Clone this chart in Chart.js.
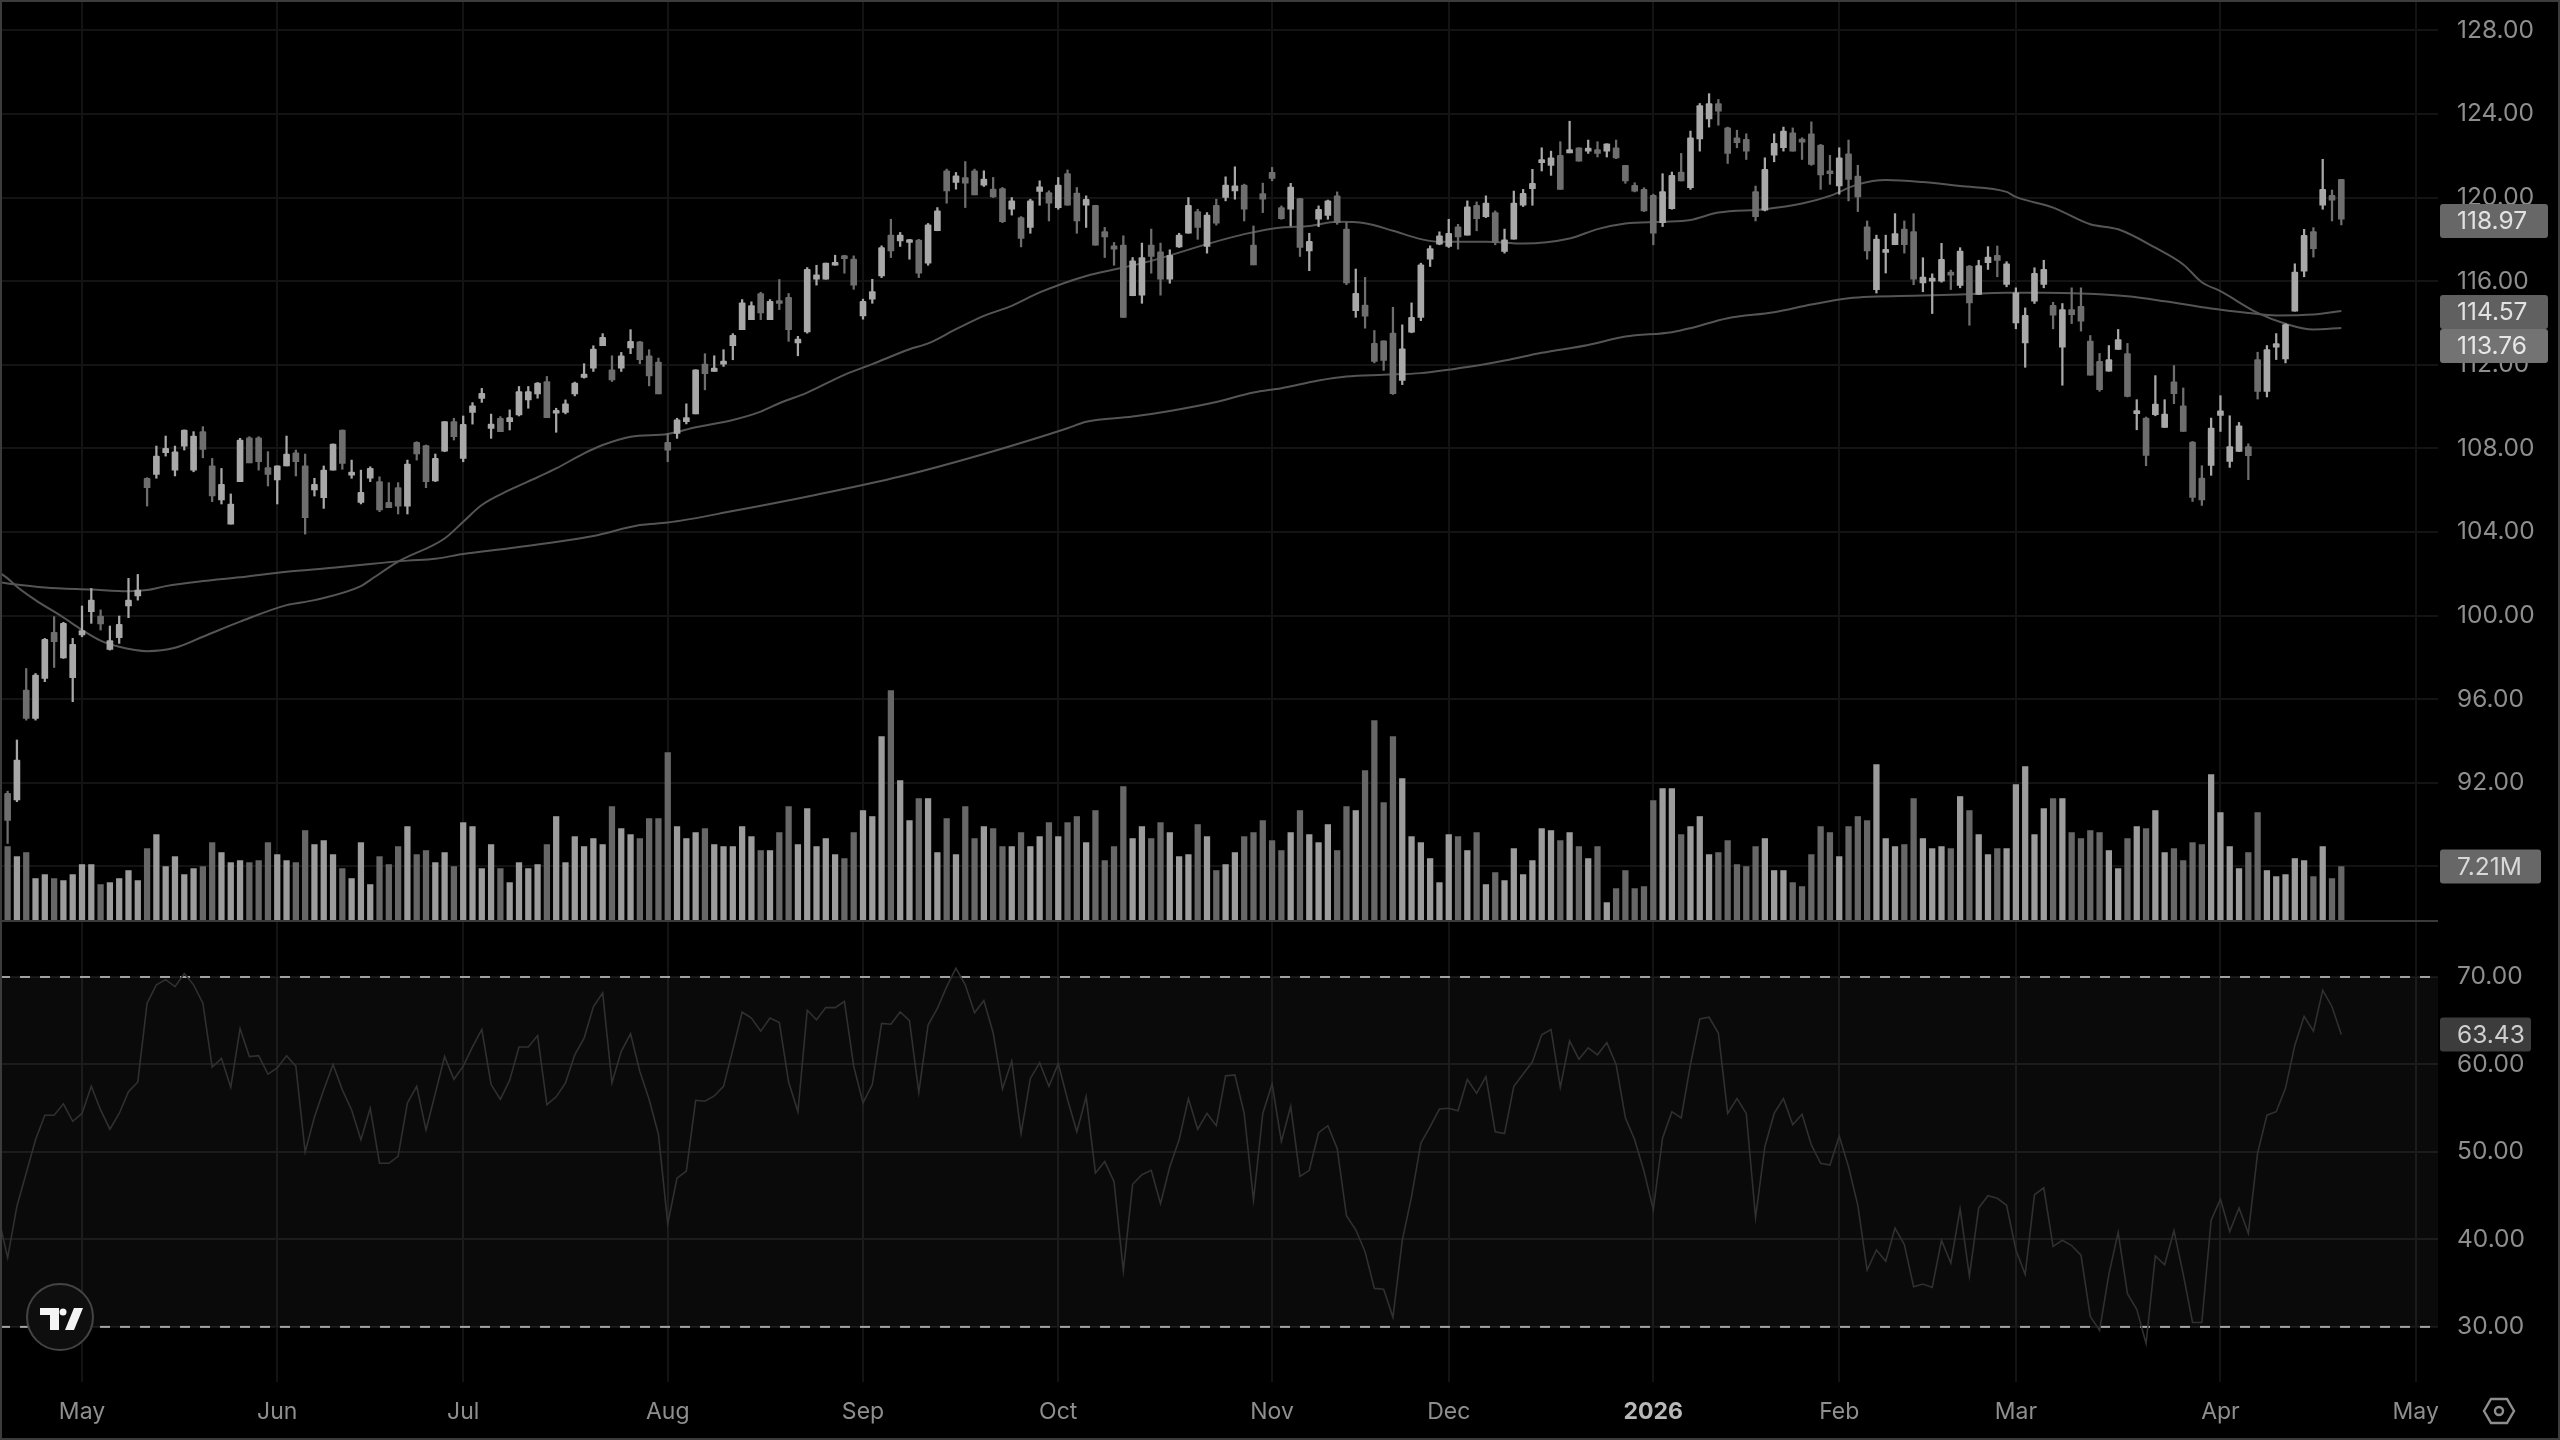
<!DOCTYPE html>
<html>
<head>
<meta charset="utf-8">
<title>Chart</title>
<script src="https://cdn.jsdelivr.net/npm/chart.js@4/dist/chart.umd.min.js"></script>
<style>
  html, body { margin: 0; padding: 0; background: #000; }
  canvas { display: block; }
</style>
</head>
<body>
<canvas id="chart" width="2560" height="1440"></canvas>
<script>
const opens = [
  91.5,91.18,96.44,95.08,97.0,99.2,97.98,97.03,99.07,100.19,
  99.98,98.38,98.94,100.46,100.94,106.57,106.76,107.79,106.96,108.11,
  106.96,108.8,107.16,105.53,104.38,106.41,108.51,108.51,107.08,106.49,
  107.16,107.79,107.16,106.01,105.64,106.96,108.88,106.72,105.42,106.57,
  106.41,105.42,106.12,105.24,108.29,108.13,106.44,107.87,109.28,107.52,
  109.72,110.39,108.96,109.44,109.28,109.6,110.32,110.61,111.2,109.68,
  109.72,110.61,111.39,111.84,112.91,111.76,111.84,112.8,113.1,112.43,
  112.13,108.29,108.72,109.28,109.65,112.03,111.68,112.03,112.91,113.68,
  114.16,115.41,114.16,115.01,115.23,113.04,113.57,116.09,116.09,116.76,
  117.16,117.05,114.34,115.14,116.25,118.2,117.93,117.85,117.97,116.86,
  118.41,121.28,120.72,120.96,121.28,120.59,120.4,120.43,119.44,119.04,
  118.57,120.29,120.24,119.52,121.15,120.21,119.63,119.63,118.37,117.69,
  117.72,115.3,115.33,117.72,117.4,116.09,117.64,118.29,119.33,117.66,
  119.63,120.0,120.32,120.59,117.72,120.19,121.2,119.52,119.44,119.95,
  117.45,118.96,119.15,120.08,118.49,114.59,114.86,113.03,113.14,113.51,
  111.25,113.56,114.27,117.05,117.77,117.66,118.6,118.2,119.63,119.09,
  119.28,117.42,118.01,119.63,120.43,121.67,121.54,122.02,122.14,122.38,
  122.22,122.3,122.22,122.38,121.54,120.58,120.39,120.11,118.8,119.47,
  121.22,120.47,122.81,123.76,124.5,123.33,122.86,122.78,120.28,119.39,
  122.03,122.38,123.1,122.73,123.05,122.51,121.22,120.55,122.09,121.03,
  118.6,115.59,117.37,117.74,118.49,118.37,115.92,116.0,116.0,116.37,
  115.79,116.72,115.36,116.88,117.23,115.84,114.0,113.05,115.04,115.84,
  114.84,112.84,114.64,114.8,113.13,112.16,111.69,112.73,112.54,109.66,
  109.45,109.61,109.0,111.18,110.04,108.3,106.58,107.18,109.58,107.38,
  107.85,108.09,112.25,110.73,112.84,112.28,114.56,116.48,118.37,119.63,120.11,120.87
];
const closes = [
  90.2,93.09,95.08,97.15,98.86,98.75,99.63,98.62,99.28,100.74,
  99.6,98.8,99.58,100.74,101.22,106.12,107.63,108.0,107.84,108.88,
  108.59,107.95,105.72,106.28,105.34,108.4,107.31,107.36,106.76,107.16,
  107.73,107.36,104.68,106.28,106.96,108.21,107.28,106.85,105.9,107.04,
  105.05,105.16,105.24,107.25,107.73,106.41,107.52,109.28,108.56,109.15,
  110.04,110.63,109.16,108.8,109.47,110.72,110.72,111.12,109.47,109.76,
  110.13,111.12,111.55,112.75,113.31,111.28,112.43,113.12,112.24,111.47,
  110.61,107.92,109.36,109.47,111.76,111.57,111.84,112.16,113.41,114.96,
  114.83,114.48,115.04,114.93,113.68,113.23,116.57,116.3,116.86,116.84,
  117.08,115.81,115.03,115.5,117.61,117.45,118.2,117.89,116.38,118.69,
  119.36,120.32,121.04,120.69,120.13,120.88,120.03,118.85,119.84,118.04,
  119.84,120.51,119.73,120.59,119.63,118.88,119.92,117.72,118.12,117.53,
  114.26,116.97,117.13,117.18,116.09,117.24,118.2,119.63,118.57,119.16,
  118.77,120.59,120.56,119.44,116.78,119.92,120.91,118.99,120.5,117.61,
  117.9,119.44,119.84,118.8,115.91,115.42,114.32,112.16,112.21,110.62,
  112.76,114.27,116.78,117.56,118.17,118.29,118.12,119.55,118.99,119.73,
  117.85,117.98,119.73,120.2,120.68,121.73,121.9,120.39,122.29,121.74,
  122.27,122.11,122.57,121.9,120.79,120.31,119.36,118.29,120.28,121.06,
  120.79,122.86,124.4,124.5,124.13,122.11,122.62,122.22,119.09,121.35,
  122.59,123.18,122.22,122.65,121.59,121.08,121.14,121.9,120.87,120.03,
  117.45,118.01,117.52,118.28,117.74,116.1,116.19,116.11,117.04,116.29,
  117.44,114.96,116.75,117.15,116.99,116.83,115.44,114.36,116.37,116.56,
  114.37,114.64,114.4,114.08,111.5,110.81,112.25,113.21,110.49,109.76,
  107.66,110.12,109.64,110.62,108.81,105.65,105.54,108.97,109.8,108.09,
  109.08,107.65,110.73,112.73,113.01,113.92,116.43,118.19,117.55,120.39,119.87,118.97
];
const highs = [
  91.6,94.05,97.47,97.23,98.91,99.95,99.68,98.91,100.46,101.3,
  100.27,99.5,99.98,101.78,101.97,106.6,108.11,108.59,108.11,108.88,
  108.8,109.04,107.52,107.04,105.82,108.48,108.56,108.56,107.84,107.16,
  108.59,107.92,107.73,106.57,107.16,108.21,108.88,107.44,106.96,107.12,
  106.64,106.36,106.36,107.44,108.32,108.16,107.73,109.28,109.44,109.55,
  110.19,110.87,109.64,109.52,109.84,110.96,110.96,111.15,111.44,109.92,
  110.32,111.17,112.05,112.91,113.49,112.43,112.59,113.68,113.12,112.72,
  112.32,108.72,109.44,110.13,111.76,112.53,112.43,112.72,113.49,115.12,
  115.01,115.47,115.12,116.08,115.41,113.36,116.65,116.76,116.86,117.24,
  117.24,117.21,115.14,116.09,117.69,118.96,118.33,118.0,118.0,118.76,
  119.52,121.36,121.2,121.72,121.36,121.28,120.96,120.48,120.0,119.09,
  119.92,120.8,120.32,120.96,121.32,120.48,120.08,119.63,118.57,117.85,
  118.17,117.13,117.82,118.49,117.82,117.5,118.29,120.0,119.44,119.28,
  119.92,120.99,121.47,120.64,118.64,120.69,121.44,119.6,120.68,119.96,
  118.29,119.6,119.88,120.27,118.8,116.58,116.18,113.64,113.14,114.75,
  113.91,114.96,116.86,117.69,118.36,118.96,118.72,119.84,119.79,120.08,
  119.36,118.49,120.31,120.39,121.35,122.38,122.22,122.67,123.65,122.38,
  122.75,122.67,122.57,122.75,121.54,120.71,120.47,120.16,121.14,121.22,
  122.11,123.18,124.5,124.97,124.69,123.37,123.22,123.05,120.55,121.9,
  123.05,123.37,123.33,122.86,123.62,122.54,122.02,122.38,122.75,121.54,
  118.88,118.2,118.2,119.23,118.88,119.23,117.12,116.35,117.81,116.53,
  117.6,116.75,117.0,117.65,117.68,116.93,115.68,114.72,116.64,117.0,
  114.99,114.93,115.68,115.68,113.4,112.54,112.92,113.69,113.02,110.33,
  109.5,111.48,110.33,111.96,110.89,108.33,107.17,109.45,110.52,109.56,
  109.24,108.22,112.6,112.92,113.49,113.96,116.83,118.48,118.56,121.83,120.36,120.87
];
const lows = [
  89.1,91.1,95.0,95.0,96.84,97.52,97.95,95.88,98.99,99.63,
  99.31,98.35,98.67,99.9,100.74,105.24,106.57,107.63,106.68,107.92,
  106.88,107.55,105.45,105.34,104.38,106.41,107.31,106.96,106.2,105.34,
  107.16,106.68,103.9,105.72,105.13,106.96,107.0,106.57,105.34,106.41,
  104.97,105.16,104.86,104.86,107.44,106.12,106.41,107.84,108.4,107.36,
  109.16,110.2,108.48,108.8,108.88,109.55,109.92,110.4,109.47,108.77,
  109.65,110.51,111.36,111.68,112.91,111.2,111.68,112.53,112.05,110.99,
  110.61,107.36,108.48,109.17,109.65,110.8,111.68,111.92,112.24,113.68,
  114.16,114.16,114.16,114.64,113.12,112.43,113.51,115.81,116.09,116.76,
  116.38,115.61,114.18,114.94,116.17,117.13,117.66,117.05,116.17,116.76,
  118.41,119.73,120.4,119.52,120.13,120.53,120.0,118.8,119.16,117.64,
  118.29,119.63,118.88,119.44,119.63,118.29,118.57,117.72,117.13,116.76,
  114.26,115.3,114.94,116.38,115.33,115.9,117.61,118.29,118.0,117.34,
  118.68,119.84,119.92,118.88,116.78,119.28,120.8,118.96,118.64,117.18,
  116.5,118.61,118.96,118.72,115.83,114.27,113.75,112.09,111.73,110.58,
  111.05,113.53,114.11,116.7,117.74,117.61,117.53,118.2,118.41,119.04,
  117.74,117.34,118.01,119.57,119.63,121.27,121.06,120.39,122.14,121.74,
  122.11,121.94,121.94,121.86,120.68,120.27,119.33,117.74,118.61,119.44,
  120.79,120.39,122.22,123.37,123.46,121.63,122.38,121.82,118.88,119.36,
  121.71,122.22,122.22,121.82,121.54,120.39,120.63,120.16,119.84,119.33,
  117.05,115.43,116.39,117.74,117.34,115.83,115.49,114.45,115.95,115.6,
  115.68,113.89,115.36,116.56,116.21,115.73,113.72,111.88,114.93,115.68,
  113.72,111.02,113.97,113.61,111.5,110.73,111.69,112.73,110.46,108.89,
  107.17,109.56,109.0,110.14,108.81,105.46,105.27,106.71,108.81,107.09,
  107.85,106.5,110.36,110.46,112.25,112.09,114.56,116.21,117.15,119.44,118.88,118.69
];
const volumes = [
  9.88,8.54,9.08,5.61,6.14,5.61,5.34,6.14,7.48,7.48,
  4.81,5.07,5.61,6.68,5.34,9.61,11.48,7.21,8.54,6.14,
  6.94,7.21,10.41,9.08,7.74,8.01,7.74,8.01,10.41,8.81,
  8.01,7.74,12.02,10.15,10.68,8.81,6.94,5.61,10.41,4.81,
  8.54,7.48,9.88,12.55,8.81,9.35,7.74,9.08,7.21,13.08,
  12.55,6.94,10.15,6.94,5.07,7.74,6.94,7.48,10.15,13.89,
  7.74,11.21,9.88,10.95,10.15,15.22,12.28,11.48,10.95,13.62,
  13.62,22.43,12.55,10.95,11.75,12.28,10.15,9.88,9.88,12.55,
  11.21,9.35,9.35,11.75,15.22,10.15,14.95,9.88,10.95,8.81,
  8.28,11.75,14.69,13.89,24.57,30.71,18.69,13.35,16.29,16.29,
  9.08,13.62,8.81,15.22,10.95,12.55,12.28,9.88,9.88,11.75,
  9.88,11.21,13.08,11.21,13.08,13.89,10.41,14.69,8.01,9.88,
  17.89,10.95,12.55,10.95,13.08,11.75,8.54,8.81,12.82,11.21,
  6.68,7.48,9.08,11.21,11.75,13.35,10.68,9.35,11.75,14.69,
  11.48,10.41,12.82,9.35,15.22,14.69,20.03,26.7,15.75,24.57,
  18.96,11.21,10.41,8.28,5.07,11.48,11.21,9.35,11.75,4.81,
  6.41,5.34,9.61,6.14,8.01,12.28,12.02,10.68,11.75,9.88,
  8.28,9.88,2.4,4.27,6.68,4.27,4.54,16.02,17.62,17.62,
  11.48,12.55,13.89,8.81,9.08,10.68,7.48,7.21,9.88,10.95,
  6.68,6.68,5.07,4.54,8.81,12.55,11.75,8.54,12.55,13.89,
  13.35,20.83,10.95,9.88,10.15,16.29,10.95,9.61,9.88,9.61,
  16.56,14.69,11.48,8.81,9.61,9.61,18.16,20.56,11.48,14.95,
  16.29,16.29,11.75,10.95,12.02,11.75,9.35,6.94,10.95,12.55,
  12.28,14.69,9.08,9.61,8.01,10.41,10.15,19.49,14.42,9.88,
  6.94,9.08,14.42,6.68,5.87,6.14,8.28,8.01,5.87,9.88,5.61,7.21
];
const rsiValues = [
  37.9,43.8,47.6,51.4,54.2,54.2,55.5,53.5,54.4,57.5,
  54.8,52.6,54.4,56.9,58.0,67.0,69.1,69.7,68.9,70.4,
  69.1,67.0,59.7,60.7,57.4,64.1,60.9,61.0,58.9,59.6,
  61.0,59.8,50.0,54.0,57.1,60.0,57.1,54.8,51.4,55.0,
  48.7,48.7,49.5,55.6,57.5,52.5,56.7,60.9,58.3,59.8,
  62.0,64.0,57.7,56.0,58.2,62.0,62.0,63.3,55.4,56.3,
  57.9,61.1,63.0,66.6,68.2,57.9,61.5,63.5,59.2,56.0,
  52.0,41.8,47.0,47.8,55.9,55.8,56.4,57.5,61.7,66.0,
  65.3,63.8,65.3,64.8,58.0,54.6,66.2,65.1,66.5,66.5,
  67.2,59.8,55.6,57.7,64.7,64.6,66.0,65.0,56.8,64.5,
  66.4,68.9,71.0,69.1,65.9,67.3,63.6,57.2,60.4,52.1,
  58.4,60.2,57.5,60.1,56.0,52.3,56.3,47.6,48.9,46.6,
  36.4,46.3,47.4,47.9,44.1,48.3,51.4,56.1,52.6,54.4,
  53.0,58.7,58.8,54.4,44.5,54.4,57.8,51.2,55.2,47.2,
  47.9,52.2,53.0,50.4,42.7,41.1,38.6,34.4,34.3,31.1,
  39.9,44.9,51.0,52.9,54.9,55.0,54.7,58.3,56.7,58.6,
  52.3,52.1,57.5,58.9,60.3,63.4,64.0,57.4,62.7,60.6,
  61.9,61.1,62.5,60.0,53.9,51.4,47.8,43.4,51.6,54.6,
  53.9,60.0,65.2,65.4,63.6,54.4,56.1,54.4,42.5,50.6,
  54.4,56.1,53.1,54.3,50.8,48.7,48.5,51.8,48.3,43.9,
  36.5,38.8,37.5,41.3,39.4,34.6,34.9,34.5,39.9,37.3,
  43.5,35.8,43.6,45.0,44.7,43.9,38.8,36.0,45.1,45.9,
  39.2,39.9,39.3,38.2,31.2,29.6,36.0,40.8,33.8,32.0,
  28.1,38.1,37.1,41.0,36.0,30.5,30.5,42.2,44.6,40.9,
  43.6,40.7,49.9,54.2,54.6,57.3,62.2,65.5,63.8,68.5,66.6,63.43
];
const rsiBefore = 42.6;

const ma50Days = [-1,0,1,3,6,8,10,12,15,18,21,25,30,33,38,39,42,47,49,51,54,57,59,62,64,67,71,74,78,81,83,86,90,93,97,99,102,105,108,111,116,120,123,129,133,137,140,143,146,149,152,154,159,163,168,171,174,178,181,184,189,193,196,199,202,206,210,215,216,220,224,227,231,234,236,238,242,245,248,251];
const ma50Values = [102.1,101.78,101.38,100.74,99.91,99.31,98.8,98.51,98.3,98.46,98.99,99.71,100.5,100.74,101.41,101.7,102.58,103.69,104.49,105.29,106.01,106.62,107.04,107.76,108.16,108.56,108.69,109.01,109.36,109.76,110.16,110.67,111.52,112.03,112.74,113.02,113.7,114.34,114.82,115.46,116.25,116.65,116.97,117.77,118.25,118.57,118.64,118.84,118.77,118.41,118.01,117.88,117.88,117.8,118.04,118.49,118.76,118.84,118.93,119.28,119.44,119.71,120.08,120.63,120.84,120.74,120.55,120.27,120.03,119.52,118.72,118.48,117.6,116.8,115.95,115.52,114.48,113.96,113.69,113.76];
const ma200Days = [-1,0,4,9,13,15,17,21,25,30,35,39,43,46,49,54,58,63,68,71,78,87,96,105,114,116,121,125,130,134,137,141,144,148,152,157,161,165,170,174,179,181,185,190,194,198,206,210,215,219,223,228,232,237,241,244,248,251];
const ma200Values = [101.6,101.54,101.35,101.25,101.17,101.22,101.41,101.65,101.83,102.1,102.29,102.47,102.63,102.72,102.95,103.22,103.46,103.81,104.33,104.45,105.0,105.78,106.65,107.73,108.96,109.27,109.52,109.79,110.22,110.67,110.88,111.25,111.44,111.52,111.6,111.89,112.2,112.57,112.95,113.35,113.56,113.75,114.23,114.51,114.88,115.18,115.31,115.36,115.44,115.44,115.41,115.28,115.04,114.69,114.48,114.36,114.4,114.57];

const monthDays = [8,29,49,71,92,113,136,155,177,197,216,238,259];
const monthLabels = ["May","Jun","Jul","Aug","Sep","Oct","Nov","Dec","2026","Feb","Mar","Apr","May"];
const priceTicks = [88,92,96,100,104,108,112,116,120,124,128];
const rsiTicks = [30,40,50,60,70];
const rsiUpper = 70;
const rsiLower = 30;

const X_MIN = -0.82;
const X_MAX = 261.4;
const UP_COLOR = "#a8a8a8";
const DOWN_COLOR = "#6e6e6e";
const VOL_UP = "#9c9c9c";
const VOL_DOWN = "#676767";
const GRID = "#131313";
const TEXT = "#8e8e8e";
const AXIS_FONT_SIZE = 24.5;

const isUp = (i) => closes[i] >= opens[i];
const candleColor = (ctx) => (isUp(ctx.dataIndex) ? UP_COLOR : DOWN_COLOR);
const volumeColor = (ctx) => (isUp(ctx.dataIndex) ? VOL_UP : VOL_DOWN);
const isYearTick = (ctx) => ctx.tick && ctx.tick.value === 177;

Chart.defaults.font.family = "Inter, Roboto, sans-serif";

function roundBox(ctx, x, y, w, h, color) {
  ctx.fillStyle = color;
  ctx.beginPath();
  ctx.roundRect(x, y, w, h, 3);
  ctx.fill();
}

function valueTag(ctx, text, y, width, boxColor, textColor) {
  roundBox(ctx, 2440, y - 17, width, 34, boxColor);
  ctx.fillStyle = textColor;
  ctx.font = AXIS_FONT_SIZE + "px Inter";
  ctx.textAlign = "left";
  ctx.textBaseline = "middle";
  ctx.fillText(text, 2457, y + 1);
}

// the tick labels must not push the plot area in from the canvas edges
function fixSize(scale, size) {
  if (scale.isHorizontal()) {
    scale.height = size;
  } else {
    scale.width = size;
  }
  scale.paddingTop = 0;
  scale.paddingBottom = 0;
  scale.paddingLeft = 0;
  scale.paddingRight = 0;
}

// last value tags, pane divider, logo, settings icon and frame
const chrome = {
  id: "chrome",
  afterDraw(chart) {
    const { ctx, scales } = chart;
    const price = scales.y;
    const rsi = scales.yRsi;
    ctx.save();

    ctx.strokeStyle = "#3a3a3a";
    ctx.lineWidth = 2;
    ctx.beginPath();
    ctx.moveTo(0, price.bottom);
    ctx.lineTo(chart.chartArea.right, price.bottom);
    ctx.stroke();

    valueTag(ctx, closes[closes.length - 1].toFixed(2), price.getPixelForValue(closes[closes.length - 1]) + 2, 108, "#676767", "#e2e2e2");
    valueTag(ctx, ma200Values[ma200Values.length - 1].toFixed(2), price.getPixelForValue(ma200Values[ma200Values.length - 1]) + 1, 108, "#606060", "#e2e2e2");
    valueTag(ctx, ma50Values[ma50Values.length - 1].toFixed(2), price.getPixelForValue(ma50Values[ma50Values.length - 1]) + 18, 108, "#737373", "#e8e8e8");
    valueTag(ctx, volumes[volumes.length - 1].toFixed(2) + "M", scales.yVol.getPixelForValue(volumes[volumes.length - 1]), 101, "#676767", "#d8d8d8");
    valueTag(ctx, rsiValues[rsiValues.length - 1].toFixed(2), rsi.getPixelForValue(rsiValues[rsiValues.length - 1]), 91, "#3c3c3c", "#cfcfcf");

    // logo
    ctx.beginPath();
    ctx.arc(60, 1317, 33, 0, Math.PI * 2);
    ctx.fillStyle = "#0e0e0e";
    ctx.fill();
    ctx.strokeStyle = "#444";
    ctx.lineWidth = 2;
    ctx.stroke();
    ctx.fillStyle = "#f4f4f4";
    ctx.beginPath();
    ctx.moveTo(40, 1308);
    ctx.lineTo(59, 1308);
    ctx.lineTo(59, 1330);
    ctx.lineTo(50, 1330);
    ctx.lineTo(50, 1315);
    ctx.lineTo(40, 1315);
    ctx.closePath();
    ctx.fill();
    ctx.beginPath();
    ctx.arc(63, 1312, 3.5, 0, Math.PI * 2);
    ctx.fill();
    ctx.beginPath();
    ctx.moveTo(74, 1308);
    ctx.lineTo(83, 1308);
    ctx.lineTo(74, 1330);
    ctx.lineTo(65, 1330);
    ctx.closePath();
    ctx.fill();

    // settings
    ctx.strokeStyle = "#8e8e8e";
    ctx.lineWidth = 2.4;
    ctx.beginPath();
    ctx.moveTo(2484, 1411);
    ctx.lineTo(2491, 1399);
    ctx.lineTo(2507, 1399);
    ctx.lineTo(2514, 1411);
    ctx.lineTo(2507, 1423);
    ctx.lineTo(2491, 1423);
    ctx.closePath();
    ctx.stroke();
    ctx.beginPath();
    ctx.arc(2499, 1411, 4, 0, Math.PI * 2);
    ctx.stroke();

    ctx.strokeStyle = "#3c3c3c";
    ctx.lineWidth = 2;
    ctx.strokeRect(1, 1, 2558, 1438);
    ctx.restore();
  }
};

new Chart(document.getElementById("chart"), {
  data: {
    datasets: [
      {
        type: "bar",
        order: 1,
        data: opens.map((o, i) => ({ x: i, y: [o, closes[i]] })),
        backgroundColor: candleColor,
        barThickness: 6,
        minBarLength: 3,
        borderRadius: 1,
        grouped: false
      },
      {
        type: "bar",
        order: 2,
        data: lows.map((l, i) => ({ x: i, y: [l, highs[i]] })),
        backgroundColor: candleColor,
        barThickness: 1.6,
        grouped: false
      },
      {
        type: "line",
        order: 3,
        data: ma50Days.map((d, i) => ({ x: d, y: ma50Values[i] })),
        borderColor: "#555555",
        borderWidth: 2,
        pointRadius: 0,
        cubicInterpolationMode: "monotone"
      },
      {
        type: "line",
        order: 3,
        data: ma200Days.map((d, i) => ({ x: d, y: ma200Values[i] })),
        borderColor: "#555555",
        borderWidth: 2,
        pointRadius: 0,
        cubicInterpolationMode: "monotone"
      },
      {
        type: "bar",
        order: 5,
        yAxisID: "yVol",
        data: volumes.map((v, i) => ({ x: i, y: v })),
        backgroundColor: volumeColor,
        barThickness: 5.6,
        grouped: false
      },
      {
        type: "line",
        order: 4,
        yAxisID: "yRsi",
        data: [{ x: -1, y: rsiBefore }].concat(rsiValues.map((v, i) => ({ x: i, y: v }))),
        borderColor: "#303030",
        borderWidth: 1.6,
        pointRadius: 0
      },
      {
        type: "line",
        order: 6,
        yAxisID: "yRsi",
        data: [{ x: X_MIN, y: rsiUpper }, { x: X_MAX, y: rsiUpper }],
        borderColor: "#a2a2a2",
        borderWidth: 2,
        borderDash: [10, 10],
        pointRadius: 0,
        fill: { value: rsiLower },
        backgroundColor: "rgba(255,255,255,0.04)"
      },
      {
        type: "line",
        order: 6,
        yAxisID: "yRsi",
        data: [{ x: X_MIN, y: rsiLower }, { x: X_MAX, y: rsiLower }],
        borderColor: "#a2a2a2",
        borderWidth: 2,
        borderDash: [10, 10],
        pointRadius: 0,
        fill: false
      }
    ]
  },
  options: {
    responsive: false,
    devicePixelRatio: 1,
    animation: false,
    layout: { padding: 0 },
    plugins: { legend: { display: false }, tooltip: { enabled: false } },
    scales: {
      x: {
        type: "linear",
        position: "bottom",
        min: X_MIN,
        max: X_MAX,
        offset: false,
        afterBuildTicks: (scale) => { scale.ticks = monthDays.map((d) => ({ value: d })); },
        afterFit: (scale) => fixSize(scale, 58),
        grid: { color: GRID, lineWidth: 2, drawTicks: false, offset: false },
        border: { display: false },
        ticks: {
          autoSkip: false,
          maxRotation: 0,
          padding: 16,
          callback: (value) => monthLabels[monthDays.indexOf(value)],
          color: (ctx) => (isYearTick(ctx) ? "#b8b8b8" : TEXT),
          font: (ctx) => (isYearTick(ctx) ? { size: 23, weight: "bold" } : { size: 23 })
        }
      },
      y: {
        type: "linear",
        position: "right",
        stack: "panes",
        stackWeight: 921,
        min: 85.39,
        max: 129.45,
        afterBuildTicks: (scale) => { scale.ticks = priceTicks.map((v) => ({ value: v })); },
        afterFit: (scale) => fixSize(scale, 122),
        grid: { color: GRID, lineWidth: 2, drawTicks: false },
        border: { display: false },
        ticks: {
          padding: 19,
          color: TEXT,
          font: { size: AXIS_FONT_SIZE },
          callback: (value) => value.toFixed(2)
        }
      },
      yRsi: {
        type: "linear",
        position: "right",
        stack: "panes",
        stackWeight: 461,
        min: 23.7,
        max: 76.4,
        afterBuildTicks: (scale) => { scale.ticks = rsiTicks.map((v) => ({ value: v })); },
        afterFit: (scale) => fixSize(scale, 122),
        grid: { color: GRID, lineWidth: 2, drawTicks: false },
        border: { display: false },
        ticks: {
          padding: 19,
          color: TEXT,
          font: { size: AXIS_FONT_SIZE },
          callback: (value) => value.toFixed(2)
        }
      },
      yVol: {
        type: "linear",
        display: false,
        position: "right",
        min: -61.6,
        max: 122.9
      }
    }
  },
  plugins: [chrome]
});
</script>
</body>
</html>
